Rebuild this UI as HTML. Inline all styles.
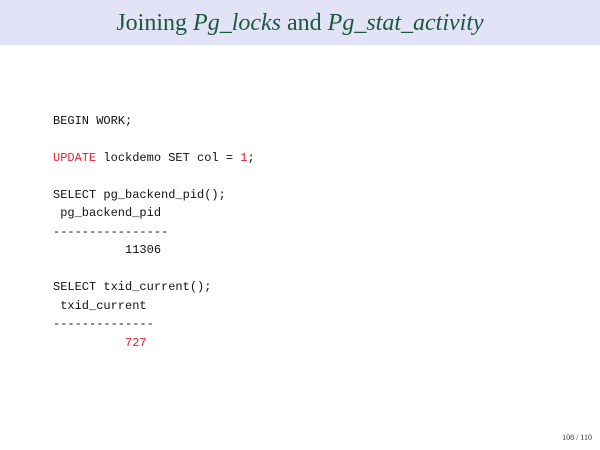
<!DOCTYPE html>
<html><head><style>
html,body{margin:0;padding:0;width:600px;height:450px;background:#fff;overflow:hidden;position:relative}
.hd{position:absolute;left:0;top:0;width:600px;height:45px;background:#e3e3f7}
.t{position:absolute;left:0;width:600px;top:9px;text-align:center;font-family:"Liberation Serif",serif;font-size:24px;color:#1a5a3a;line-height:28px}
pre{position:absolute;left:53px;top:111.75px;margin:0;font-family:"Liberation Mono",monospace;font-size:12px;line-height:18.5px;color:#111}
.r{color:#e8232b}
.pg{position:absolute;right:8px;top:433px;font-family:"Liberation Serif",serif;font-size:8px;color:#333}
</style></head><body>
<div class="hd"></div>
<div class="t">Joining <i>Pg_locks</i> and <i>Pg_stat_activity</i></div>
<pre>BEGIN WORK;

<span class="r">UPDATE</span> lockdemo SET col = <span class="r">1</span>;

SELECT pg_backend_pid();
 pg_backend_pid
----------------
          11306

SELECT txid_current();
 txid_current
--------------
          <span class="r">727</span></pre>
<div class="pg">108 / 110</div>
</body></html>
